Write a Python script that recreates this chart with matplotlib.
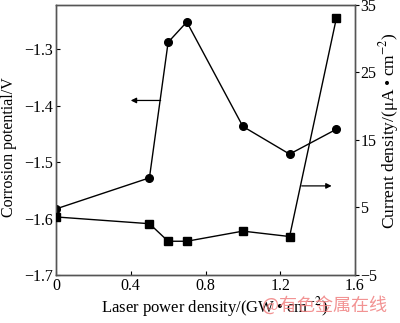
import matplotlib
matplotlib.use("Agg")
import matplotlib.pyplot as plt

power = [0, 0.5, 0.6, 0.7, 1.0, 1.25, 1.5]
potential = [-1.583, -1.528, -1.288, -1.252, -1.437, -1.486, -1.442]
current = [3.6, 2.6, 0.0, 0.0, 1.5, 0.7, 33.0]
x_ticks = [0, 0.4, 0.8, 1.2, 1.6]
x_ticklabels = ["0", "0.4", "0.8", "1.2", "1.6"]
left_ticks = [-1.7, -1.6, -1.5, -1.4, -1.3]
left_ticklabels = ["\u22121.7", "\u22121.6", "\u22121.5", "\u22121.4", "\u22121.3"]
right_ticks = [-5, 5, 15, 25, 35]
right_ticklabels = ["\u22125", "5", "15", "25", "35"]

plt.rcParams['font.family'] = ['Liberation Serif', 'DejaVu Serif']
plt.rcParams['mathtext.fontset'] = 'stix'
fs = 11.5

fig = plt.figure(figsize=(4.0, 3.23), dpi=100)
ax = fig.add_axes([56/400, 1-275/323, (355-56)/400, (275-5)/323])
ax2 = ax.twinx()

ax.plot(power, potential, color='black', lw=1.0, marker='o', ms=5.5, zorder=3)
ax2.plot(power, current, color='black', lw=1.0, marker='s', ms=5.5, zorder=3)

ax.set_xlim(0, 1.6)
ax.set_ylim(-1.7, -1.222)
ax2.set_ylim(-5, 35)

ax.set_xticks(x_ticks)
ax.set_xticklabels(x_ticklabels, fontsize=fs)
ax.set_yticks(left_ticks)
ax.set_yticklabels(left_ticklabels, fontsize=fs)
ax2.set_yticks(right_ticks)
ax2.set_yticklabels(right_ticklabels, fontsize=fs)

ax.tick_params(axis='x', direction='in', length=3, width=0.8, pad=2)
ax.tick_params(axis='y', direction='in', length=3, width=0.8, pad=2)
ax2.tick_params(axis='y', direction='out', length=3, width=0.8, pad=1)

for a in (ax, ax2):
    for s in a.spines.values():
        s.set_linewidth(1.0)
        s.set_color('#555555')

ax.set_xlabel("Laser power density/(GW\u2009\u2022\u2009cm$^{-2}$)", fontsize=12)
ax.xaxis.set_label_coords((215-56)/299, (275-307)/270)
ax.xaxis.label.set_va('center')

ax.set_ylabel("Corrosion potential/V", fontsize=fs)
ax.yaxis.set_label_coords((9-56)/299, (275-147)/270)
ax.yaxis.label.set_va('center')

ax2.set_ylabel("Current density/(\u03bcA\u2009\u2022\u2009cm$^{-2}$)", fontsize=12.5)
ax2.yaxis.set_label_coords((389-56)/299, (275-131)/270)
ax2.yaxis.label.set_va('center')

ax.annotate("", xy=(0.40, -1.391), xytext=(0.56, -1.391),
            arrowprops=dict(arrowstyle='-|>', color='black', lw=0.9,
                            mutation_scale=8, shrinkA=0, shrinkB=0))
ax2.annotate("", xy=(1.475, 8.2), xytext=(1.315, 8.2),
             arrowprops=dict(arrowstyle='-|>', color='black', lw=0.9,
                             mutation_scale=8, shrinkA=0, shrinkB=0))

fig.text(262/400, 1-305/323, "@有色金属在线", fontsize=13, color='#f08080', alpha=0.85,
         va='center', ha='left', family=['Noto Sans CJK SC', 'DejaVu Sans'])

fig.savefig("out.png", dpi=100)
